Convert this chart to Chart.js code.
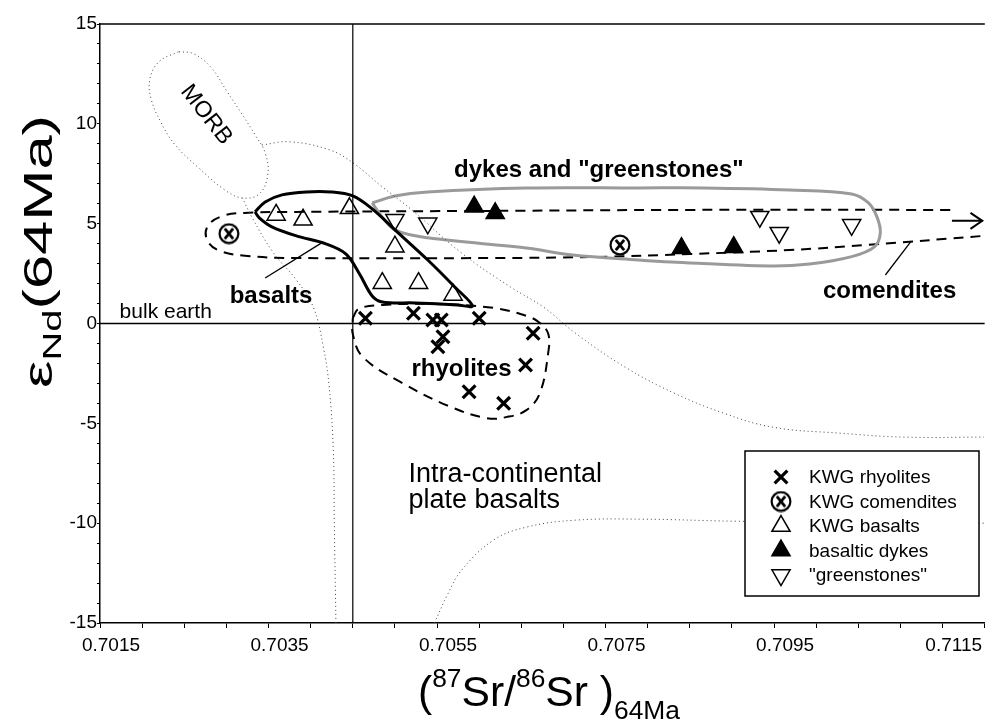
<!DOCTYPE html>
<html>
<head>
<meta charset="utf-8">
<script src="https://cdn.jsdelivr.net/npm/chart.js@4.4.1/dist/chart.umd.min.js"></script>
<style>
  html, body { margin: 0; padding: 0; background: #fff; }
</style>
</head>
<body>
<canvas id="chart" width="997" height="724"></canvas>
<script>
// axis tick labels
const xTickLabels = [0.7015, 0.7035, 0.7055, 0.7075, 0.7095, 0.7115];
const yTickLabels = [-15, -10, -5, 0, 5, 10, 15];
const bulkEarthSr = 0.7045;
const bulkEarthNd = 0;

// samples: [87Sr/86Sr, eNd]
const kwgRhyolites = [[0.70465, 0.26], [0.70522, 0.51], [0.70545, 0.18], [0.70555, 0.18], [0.70557, -0.66],
  [0.70551, -1.16], [0.70600, 0.26], [0.70664, -0.49], [0.70655, -2.08], [0.70588, -3.42], [0.70629, -4.0]];
const kwgComendites = [[0.70303, 4.5], [0.70767, 3.93]];
const kwgBasalts = [[0.70359, 5.44], [0.70391, 5.19], [0.70446, 5.77], [0.70500, 3.85], [0.70485, 2.02],
  [0.70528, 2.02], [0.70569, 1.43]];
const basalticDykes = [[0.70594, 5.85], [0.70619, 5.52], [0.70840, 3.77], [0.70902, 3.82]];
const greenstones = [[0.70500, 5.19], [0.70539, 5.02], [0.70933, 5.35], [0.70956, 4.55], [0.71042, 4.94]];

// field outlines (traced)
const morbField = [[0.70243, 13.61], [0.70220, 13.11], [0.70209, 12.21], [0.70211, 11.20], [0.70222, 10.10],
  [0.70239, 8.95], [0.70266, 7.84], [0.70298, 6.69], [0.70319, 6.29], [0.70339, 6.49], [0.70349, 7.44],
  [0.70346, 8.55], [0.70334, 9.45], [0.70319, 10.45], [0.70301, 11.60], [0.70282, 12.81], [0.70261, 13.51],
  [0.70243, 13.61]];
const intraPlateLeft = [[0.70430, -15], [0.70428, -9.85], [0.70427, -6.49], [0.70422, -3.18], [0.70415, -1.18],
  [0.70403, 0.83], [0.70383, 2.18], [0.70356, 3.53], [0.70330, 5.34], [0.70319, 6.29]];
const intraPlateTop = [[0.70342, 8.94], [0.70375, 9.10], [0.70422, 8.70], [0.70450, 8.05], [0.70485, 6.84],
  [0.70520, 5.69], [0.70579, 3.53], [0.70637, 1.83], [0.70676, 0.83], [0.70714, -0.48], [0.70773, -2.18],
  [0.70831, -3.48], [0.70890, -4.49], [0.70948, -5.19], [0.71027, -5.49], [0.71105, -5.69], [0.71199, -5.69]];
const intraPlateLower = [[0.70547, -15], [0.70562, -13.61], [0.70579, -12.36], [0.70617, -10.85], [0.70656, -10.20],
  [0.70714, -9.85], [0.70793, -9.80], [0.70901, -9.90], [0.71027, -9.95], [0.71199, -10.0]];
const basaltsField = [[0.70334, 5.59], [0.70346, 6.09], [0.70366, 6.44], [0.70395, 6.59], [0.70424, 6.59],
  [0.70450, 6.39], [0.70473, 5.74], [0.70500, 4.69], [0.70539, 3.18], [0.70571, 1.83], [0.70592, 0.88],
  [0.70574, 0.93], [0.70524, 1.03], [0.70485, 1.08], [0.70473, 1.38], [0.70458, 2.48], [0.70442, 3.48],
  [0.70418, 3.99], [0.70383, 4.39], [0.70354, 4.84], [0.70339, 5.29], [0.70334, 5.59]];
const dykesField = [[0.70473, 6.04], [0.70500, 6.39], [0.70539, 6.59], [0.70656, 6.79], [0.70789, 6.79],
  [0.70866, 6.79], [0.70968, 6.69], [0.71042, 6.49], [0.71062, 6.04], [0.71072, 5.34], [0.71076, 4.54],
  [0.71069, 3.84], [0.71042, 3.35], [0.70992, 2.98], [0.70945, 2.88], [0.70828, 3.08], [0.70789, 3.18],
  [0.70711, 3.43], [0.70656, 3.78], [0.70539, 4.29], [0.70500, 4.69], [0.70483, 5.44], [0.70473, 6.04]];
const comenditesField = [[0.71159, 5.69], [0.70851, 5.69], [0.70617, 5.64], [0.70383, 5.59], [0.70321, 5.54],
  [0.70296, 5.39], [0.70278, 4.89], [0.70277, 4.19], [0.70292, 3.64], [0.70325, 3.38], [0.70383, 3.28],
  [0.70617, 3.28], [0.70734, 3.33], [0.70851, 3.48], [0.70968, 3.68], [0.71062, 3.94], [0.71199, 4.39]];
const comenditesArrow = [[0.71161, 5.14], [0.71197, 5.14]];
const comenditesArrowHead = [[0.71183, 5.54], [0.71197, 5.14], [0.71183, 4.74]];
const rhyolitesField = [[0.70450, 0.28], [0.70457, 0.73], [0.70485, 0.93], [0.70547, 0.98], [0.70617, 0.78],
  [0.70656, 0.38], [0.70672, 0.03], [0.70682, -0.53], [0.70682, -1.43], [0.70672, -3.48], [0.70656, -4.34],
  [0.70632, -4.69], [0.70609, -4.74], [0.70567, -4.19], [0.70509, -2.99], [0.70462, -1.68], [0.70450, -0.53],
  [0.70450, 0.28]];
const basaltsPointer = [[0.70346, 2.28], [0.70413, 4.04]];
const comenditesPointer = [[0.71082, 2.43], [0.71112, 4.09]];

const fieldLabels = [
  { text: 'dykes and "greenstones"', x: 0.70742, y: 7.34, bold: true },
  { text: 'basalts', x: 0.70353, y: 1.03, bold: true },
  { text: 'comendites', x: 0.71087, y: 1.28, bold: true },
  { text: 'rhyolites', x: 0.70579, y: -2.63, bold: true },
  { text: 'bulk earth', x: 0.70228, y: 0.28 },
  { text: 'Intra-continental', x: 0.70516, y: -7.94, left: true, big: true },
  { text: 'plate basalts', x: 0.70516, y: -9.25, left: true, big: true },
  { text: 'MORB', x: 0.70276, y: 10.45, angle: 52 }
];

const FONT = '"Liberation Sans", Arial, sans-serif';
function hasFont(name) {
  const g = document.createElement('canvas').getContext('2d');
  g.font = '40px monospace';
  const a = g.measureText('0.7015 abcMW').width;
  g.font = '40px "' + name + '", monospace';
  return g.measureText('0.7015 abcMW').width !== a;
}
const narrow = hasFont('Liberation Sans Narrow');
const tickFont = narrow ? { family: '"Liberation Sans Narrow"', size: 22 } : { family: FONT, size: 19 };

function makeOtimes(size) {
  const c = document.createElement('canvas');
  c.width = c.height = size;
  const g = c.getContext('2d');
  const r = size / 2;
  g.strokeStyle = '#000';
  g.lineWidth = 2.2;
  g.beginPath(); g.arc(r, r, r - 1.6, 0, Math.PI * 2); g.stroke();
  g.lineWidth = 2.8;
  const d = r * 0.38;
  g.beginPath();
  g.moveTo(r - d, r - d * 1.25); g.lineTo(r + d, r + d * 1.25);
  g.moveTo(r + d, r - d * 1.25); g.lineTo(r - d, r + d * 1.25);
  g.stroke();
  return c;
}
const otimes = makeOtimes(22);

const pts = arr => arr.map(p => ({ x: p[0], y: p[1] }));

function sampleSet(label, data, style) {
  return Object.assign({
    label, data: pts(data), order: 0,
    pointRadius: 10.5, borderColor: '#000', pointBorderColor: '#000',
    pointBackgroundColor: 'rgba(0,0,0,0)', pointBorderWidth: 1.5
  }, style);
}
function lineSet(data, style) {
  return Object.assign({
    data: pts(data), order: 1, showLine: true, pointRadius: 0,
    borderColor: '#000', borderWidth: 1, tension: 0.4, fill: false
  }, style);
}

const dotted = { borderColor: '#444', borderWidth: 1, borderDash: [1, 3] };
const dashed = { borderWidth: 2, borderDash: [10, 7] };

const samples = [
  sampleSet('KWG rhyolites', kwgRhyolites, { pointStyle: 'crossRot', pointBorderWidth: 3.2, pointRadius: 9 }),
  sampleSet('KWG comendites', kwgComendites, { pointStyle: otimes }),
  sampleSet('KWG basalts', kwgBasalts, { pointStyle: 'triangle' }),
  sampleSet('basaltic dykes', basalticDykes, { pointStyle: 'triangle', pointBackgroundColor: '#000' }),
  sampleSet('"greenstones"', greenstones, { pointStyle: 'triangle', rotation: 180 })
];

const datasets = samples.concat([
  lineSet([[bulkEarthSr, -15], [bulkEarthSr, 15]], { tension: 0, borderWidth: 1.2 }),
  lineSet([[0.7015, bulkEarthNd], [0.7120, bulkEarthNd]], { tension: 0, borderWidth: 1.4 }),
  lineSet(morbField, dotted),
  lineSet(intraPlateLeft, dotted),
  lineSet(intraPlateTop, dotted),
  lineSet(intraPlateLower, dotted),
  lineSet(basaltsField, { borderWidth: 3, tension: 0.35 }),
  lineSet(dykesField, { borderWidth: 3, borderColor: '#9a9a9a', tension: 0.35 }),
  lineSet(comenditesField, dashed),
  lineSet(rhyolitesField, dashed),
  lineSet(comenditesArrow, { tension: 0, borderWidth: 2 }),
  lineSet(comenditesArrowHead, { tension: 0, borderWidth: 2 }),
  lineSet(basaltsPointer, { tension: 0, borderWidth: 1.3 }),
  lineSet(comenditesPointer, { tension: 0, borderWidth: 1.3 })
]);

// draw a run of text parts, stretched to a target length
function drawParts(ctx, parts, x0, y0, target) {
  let w = 0;
  parts.forEach(p => { ctx.font = p.size + 'px ' + FONT; p.w = ctx.measureText(p.t).width; w += p.w; });
  const k = target / w;
  ctx.save();
  ctx.translate(x0, y0);
  ctx.scale(k, 1);
  let cx = 0;
  parts.forEach(p => {
    ctx.font = p.size + 'px ' + FONT;
    ctx.fillText(p.t, cx, p.dy || 0);
    cx += p.w;
  });
  ctx.restore();
}

const overlay = {
  id: 'overlay',
  afterDatasetsDraw(chart) {
    const { ctx, chartArea, scales: { x, y } } = chart;
    ctx.save();
    ctx.fillStyle = '#000';
    ctx.strokeStyle = '#000';

    // top frame
    ctx.lineWidth = 1.5;
    ctx.beginPath();
    ctx.moveTo(chartArea.left, chartArea.top);
    ctx.lineTo(chartArea.right, chartArea.top);
    ctx.stroke();

    // field labels
    ctx.textBaseline = 'alphabetic';
    fieldLabels.forEach(l => {
      const px = x.getPixelForValue(l.x), py = y.getPixelForValue(l.y);
      ctx.font = l.bold ? 'bold 24px ' + FONT : (l.big ? '27px ' + FONT : (l.angle ? '23px ' + FONT : '21px ' + FONT));
      ctx.textAlign = l.left ? 'left' : 'center';
      if (l.angle) {
        ctx.save();
        ctx.translate(px, py);
        ctx.rotate(l.angle * Math.PI / 180);
        ctx.textBaseline = 'middle';
        ctx.fillText(l.text, 0, 0);
        ctx.restore();
      } else {
        ctx.fillText(l.text, px, py);
      }
    });

    // legend box
    const bx = 745, by = 451, bw = 234, bh = 145;
    ctx.fillStyle = '#fff';
    ctx.fillRect(bx, by, bw, bh);
    ctx.lineWidth = 1.5;
    ctx.strokeRect(bx, by, bw, bh);
    ctx.textAlign = 'left';
    ctx.textBaseline = 'middle';
    samples.forEach((ds, i) => {
      const cy = by + 26 + i * 24.5;
      ctx.fillStyle = ds.pointBackgroundColor;
      ctx.strokeStyle = '#000';
      ctx.lineWidth = ds.pointBorderWidth;
      Chart.helpers.drawPoint(ctx, {
        pointStyle: ds.pointStyle, rotation: ds.rotation || 0,
        radius: ds.pointRadius, borderWidth: ds.pointBorderWidth
      }, bx + 36, cy);
      ctx.fillStyle = '#000';
      ctx.font = '19px ' + FONT;
      ctx.fillText(ds.label, bx + 64, cy + 1);
    });

    // axis titles
    ctx.textAlign = 'left';
    ctx.textBaseline = 'alphabetic';
    ctx.fillStyle = '#000';
    drawParts(ctx, [
      { t: '(', size: 42 }, { t: '87', size: 26, dy: -19 }, { t: 'Sr/', size: 42 },
      { t: '86', size: 26, dy: -19 }, { t: 'Sr )', size: 42 }, { t: '64Ma', size: 26, dy: 13 }
    ], 418, 706, 262);
    ctx.save();
    ctx.translate(52, 388);
    ctx.rotate(-Math.PI / 2);
    drawParts(ctx, [
      { t: '\u03b5', size: 40 }, { t: 'Nd', size: 26, dy: 9 }, { t: '(64Ma)', size: 40 }
    ], 0, 0, 273);
    ctx.restore();
    ctx.restore();
  }
};

new Chart(document.getElementById('chart'), {
  type: 'scatter',
  data: { datasets },
  options: {
    responsive: false,
    animation: false,
    events: [],
    layout: { padding: { top: 24, right: 0, left: 0, bottom: 0 } },
    plugins: { legend: { display: false }, tooltip: { enabled: false } },
    scales: {
      x: {
        type: 'linear', min: 0.7015, max: 0.7120,
        afterFit(s) { s.height = 101; },
        ticks: {
          stepSize: 0.0005, autoSkip: false, maxRotation: 0, labelOffset: 11, padding: 6,
          color: '#000', font: tickFont,
          callback(v) {
            const t = xTickLabels.find(t => Math.abs(t - v) < 1e-7);
            return t === undefined ? '' : t.toFixed(4);
          }
        },
        grid: { drawOnChartArea: false, tickLength: 5, color: '#000' },
        border: { color: '#000', width: 1.5 }
      },
      y: {
        min: -15, max: 15,
        afterFit(s) { s.width = 100; },
        ticks: {
          stepSize: 1, autoSkip: false, padding: 0, color: '#000', font: tickFont,
          callback(v) { return yTickLabels.includes(v) ? String(v) : ''; }
        },
        grid: { drawOnChartArea: false, tickLength: 3, color: '#000' },
        border: { color: '#000', width: 1.5 }
      }
    }
  },
  plugins: [overlay]
});
</script>
</body>
</html>
